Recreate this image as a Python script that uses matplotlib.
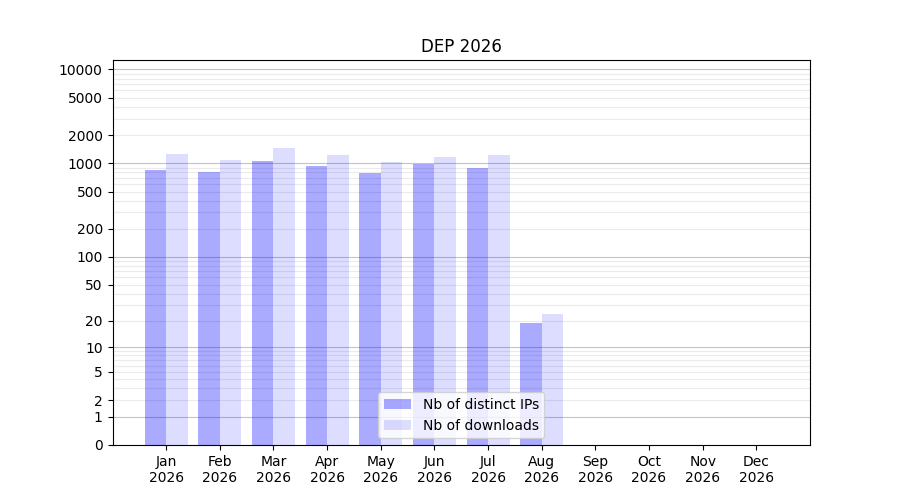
import numpy as np
import matplotlib
matplotlib.use("Agg")
import matplotlib.pyplot as plt
from matplotlib.ticker import FixedLocator, FixedFormatter

months = ["Jan", "Feb", "Mar", "Apr", "May", "Jun", "Jul", "Aug", "Sep", "Oct", "Nov", "Dec"]
year = "2026"
distinct_ips = [857, 816, 1070, 946, 796, 993, 900, 19, 0, 0, 0, 0]
downloads = [1270, 1096, 1472, 1240, 1044, 1180, 1240, 24, 0, 0, 0, 0]
ytick_values = [0, 1, 2, 5, 10, 20, 50, 100, 200, 500, 1000, 2000, 5000, 10000]
title = "DEP 2026"

def fwd(y):
    return np.log10(np.maximum(y, 0) + 1)

def inv(y):
    return 10 ** y - 1

fig, ax = plt.subplots(figsize=(9, 5), dpi=100)
x = np.arange(len(months))
w = 0.4
ax.bar(x - w / 2, distinct_ips, width=w, color="blue", alpha=0.333, label="Nb of distinct IPs", zorder=2)
ax.bar(x + w / 2, downloads, width=w, color="blue", alpha=0.133, label="Nb of downloads", zorder=2)

ax.set_yscale("function", functions=(fwd, inv))
ax.set_ylim(0, 12600)
ax.set_xlim(-1, 12)

ax.yaxis.set_major_locator(FixedLocator(ytick_values))
ax.yaxis.set_major_formatter(FixedFormatter([str(v) for v in ytick_values]))
ax.yaxis.set_minor_locator(FixedLocator([]))

# grid lines
majors = [1, 10, 100, 1000, 10000]
minors = [m * d for d in [1, 10, 100, 1000] for m in range(2, 10)] + [20000]
for v in minors:
    if v < 12600:
        ax.axhline(v, color="#ebebeb", lw=0.8, zorder=1)
for v in majors:
    ax.axhline(v, color="#c4c4c4", lw=0.8, zorder=1)

ax.set_xticks(x)
ax.set_xticklabels([f"{m}\n{year}" for m in months])
ax.set_title(title)
ax.legend(loc="lower center")

fig.savefig("out.png", dpi=100)
